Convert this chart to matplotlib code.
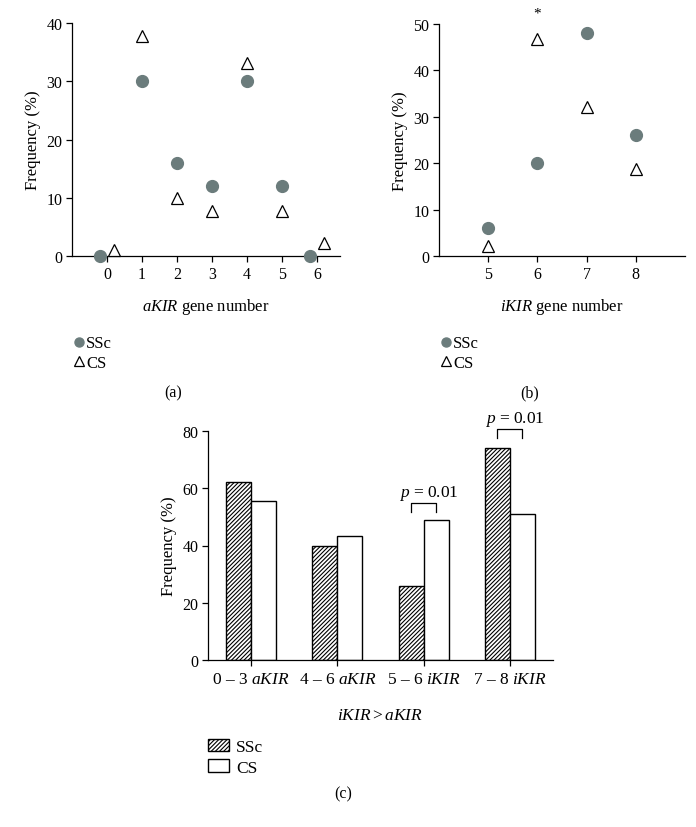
import matplotlib
matplotlib.use('Agg')
import matplotlib.pyplot as plt
from matplotlib.lines import Line2D
from matplotlib.patches import Patch

plt.rcParams['font.family'] = ['Liberation Serif', 'DejaVu Serif']
plt.rcParams['mathtext.fontset'] = 'custom'
plt.rcParams['mathtext.rm'] = 'Liberation Serif'
plt.rcParams['mathtext.it'] = 'Liberation Serif:italic'
plt.rcParams['hatch.linewidth'] = 0.8

# panel (a): aKIR gene number
a_ssc_x = [-0.2, 1, 2, 3, 4, 5, 5.8]
a_ssc_y = [0, 30, 16, 12, 30, 12, 0]
a_cs_x = [0.2, 1, 2, 3, 4, 5, 6.2]
a_cs_y = [1.0, 37.7, 10, 7.7, 33.2, 7.7, 2.2]

# panel (b): iKIR gene number
b_x = [5, 6, 7, 8]
b_ssc_y = [6, 20, 48, 26]
b_cs_y = [2.1, 46.7, 32.1, 18.7]

# panel (c): grouped bars
c_labels = [r'0 – 3 $\mathit{aKIR}$', r'4 – 6 $\mathit{aKIR}$',
            r'5 – 6 $\mathit{iKIR}$', r'7 – 8 $\mathit{iKIR}$']
c_ssc = [62.2, 40, 26, 74.2]
c_cs = [55.6, 43.4, 49, 51.1]

GREY = '#6b7c7c'
W, H = 696, 828
fig = plt.figure(figsize=(W / 100, H / 100), dpi=100)

def axes_px(l, r, b, t):
    return fig.add_axes([l / W, 1 - b / H, (r - l) / W, (b - t) / H])

def style(ax):
    for s in ['top', 'right']:
        ax.spines[s].set_visible(False)
    ax.tick_params(direction='out', length=4, width=0.9, labelsize=11.5, pad=3)
    for s in ['left', 'bottom']:
        ax.spines[s].set_linewidth(0.9)

def marker_legend(ax, x, y):
    h = [Line2D([], [], ls='none', marker='o', ms=6.5, mfc=GREY, mec=GREY),
         Line2D([], [], ls='none', marker='^', ms=6.5, mfc='white', mec='black', mew=0.9)]
    ax.legend(h, ['SSc', 'CS'], loc='upper left', bbox_to_anchor=(x / W, 1 - y / H),
              bbox_transform=fig.transFigure, frameon=False, fontsize=12,
              handlelength=0.5, handletextpad=0.2, labelspacing=0.2, borderpad=0)

# (a)
ax1 = axes_px(72, 340, 257, 24)
ax1.plot(a_ssc_x, a_ssc_y, 'o', ms=8.5, color=GREY, clip_on=False, zorder=3)
ax1.plot(a_cs_x, a_cs_y, '^', ms=8.5, mfc='white', mec='black', mew=0.9, clip_on=False, zorder=3)
ax1.set_xlim(-1, 6.65)
ax1.set_ylim(0, 40)
ax1.set_xticks(range(0, 7))
ax1.set_yticks([0, 10, 20, 30, 40])
style(ax1)
ax1.set_ylabel('Frequency (%)', fontsize=12)
ax1.set_xlabel(r'$\mathit{aKIR}$ gene number', fontsize=12, labelpad=10)
marker_legend(ax1, 66, 328)

# (b)
ax2 = axes_px(439, 685, 257, 24.7)
ax2.plot(b_x, b_ssc_y, 'o', ms=8.5, color=GREY, clip_on=False, zorder=3)
ax2.plot(b_x, b_cs_y, '^', ms=8.5, mfc='white', mec='black', mew=0.9, clip_on=False, zorder=3)
ax2.text(6, 52.2, '*', ha='center', va='center', fontsize=11)
ax2.set_xlim(4, 9)
ax2.set_ylim(0, 50)
ax2.set_xticks(b_x)
ax2.set_yticks([0, 10, 20, 30, 40, 50])
style(ax2)
ax2.set_ylabel('Frequency (%)', fontsize=12)
ax2.set_xlabel(r'$\mathit{iKIR}$ gene number', fontsize=12, labelpad=10)
marker_legend(ax2, 433, 328)

fig.text(173 / W, 1 - 393 / H, '(a)', ha='center', va='center', fontsize=11.5)
fig.text(530 / W, 1 - 393 / H, '(b)', ha='center', va='center', fontsize=11.5)

# (c)
ax3 = axes_px(208, 553, 661, 432)
xs = list(range(len(c_labels)))
bw = 0.29
ax3.bar([x - bw / 2 for x in xs], c_ssc, bw, facecolor='white', edgecolor='black',
        hatch='////////', linewidth=1.0)
ax3.bar([x + bw / 2 for x in xs], c_cs, bw, facecolor='white', edgecolor='black',
        linewidth=1.0)
ax3.set_xlim(-0.5, 3.5)
ax3.set_ylim(0, 80)
ax3.set_yticks([0, 20, 40, 60, 80])
ax3.set_xticks(xs)
ax3.set_xticklabels(c_labels)
style(ax3)
ax3.tick_params(axis='x', labelsize=12.5, pad=4)
ax3.set_ylabel('Frequency (%)', fontsize=12)
ax3.set_xlabel(r'$\mathit{iKIR} > \mathit{aKIR}$', fontsize=12.5, labelpad=14)

# p-value brackets
for i, top, arm in [(2, 54.7, 51.8), (3, 80.6, 77.6)]:
    ax3.plot([i - bw / 2, i - bw / 2, i + bw / 2, i + bw / 2], [arm, top, top, arm],
             color='black', lw=0.9, clip_on=False)
    ax3.text(i + 0.06, top + 0.6, r'$p$ = 0.01', ha='center', va='bottom', fontsize=12.5,
             clip_on=False)

ax3.legend([Patch(facecolor='white', edgecolor='black', hatch='////////'),
            Patch(facecolor='white', edgecolor='black')], ['SSc', 'CS'],
           loc='upper left', bbox_to_anchor=(199 / W, 1 - 731 / H), bbox_transform=fig.transFigure,
           frameon=False, fontsize=12.5, handlelength=1.25, handleheight=0.75,
           handletextpad=0.4, labelspacing=0.25, borderpad=0)

fig.text(343 / W, 1 - 794 / H, '(c)', ha='center', va='center', fontsize=11.5)

fig.savefig('out.png', dpi=100)
